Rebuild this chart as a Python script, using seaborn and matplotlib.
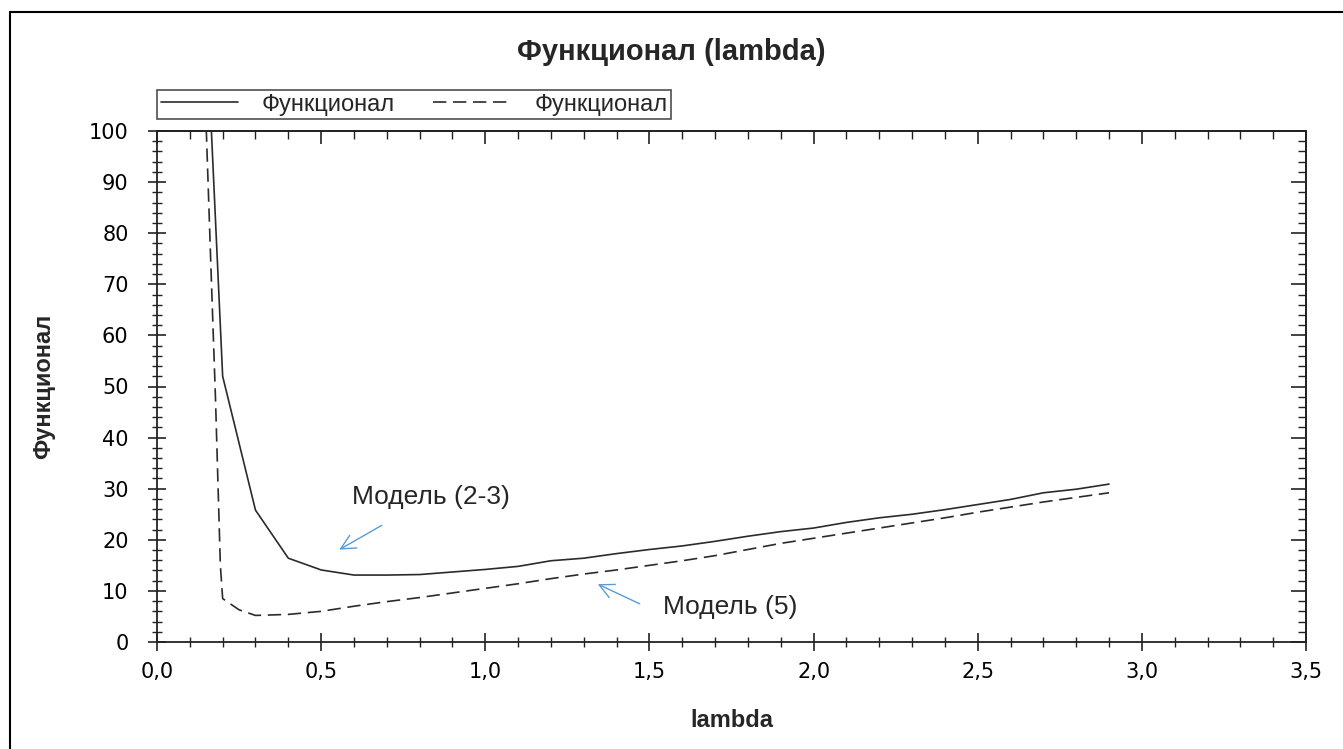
import matplotlib

matplotlib.use("Agg")
import matplotlib.pyplot as plt
import pandas as pd
import seaborn as sns
from matplotlib.lines import Line2D
from matplotlib.ticker import FuncFormatter, MultipleLocator

# Model (2-3), solid curve
lambda_solid = [0.15, 0.2, 0.3, 0.4, 0.5, 0.6, 0.7, 0.8, 0.9, 1.0, 1.1, 1.2, 1.3, 1.4,
                1.5, 1.6, 1.7, 1.8, 1.9, 2.0, 2.1, 2.2, 2.3, 2.4, 2.5, 2.6, 2.7, 2.8, 2.9]
func_solid = [122.0, 52.0, 25.8, 16.4, 14.1, 13.1, 13.1, 13.2, 13.7, 14.2, 14.8, 15.9, 16.4, 17.3,
              18.1, 18.8, 19.7, 20.7, 21.6, 22.3, 23.4, 24.3, 25.0, 25.9, 26.9, 27.9, 29.2, 29.9, 30.9]

# Model (5), dashed curve
lambda_dashed = [0.15, 0.165, 0.178, 0.193, 0.2, 0.25, 0.3, 0.4, 0.5, 0.6, 0.7, 0.8, 0.9, 1.0,
                 1.1, 1.2, 1.3, 1.4, 1.5, 1.6, 1.7, 1.8, 1.9, 2.0, 2.1, 2.2, 2.3, 2.4, 2.5,
                 2.6, 2.7, 2.8, 2.9]
func_dashed = [100.5, 72.0, 48.0, 15.0, 8.5, 6.3, 5.2, 5.4, 6.0, 7.0, 7.9, 8.7, 9.6, 10.5,
               11.4, 12.4, 13.3, 14.1, 15.0, 15.9, 16.9, 18.1, 19.3, 20.3, 21.3, 22.3, 23.3, 24.3, 25.4,
               26.4, 27.4, 28.3, 29.2]

legend_labels = ["Функционал", "Функционал"]
annot_labels = ["Модель (2-3)", "Модель (5)"]

sns.set_theme(style="white")
plt.rcParams["font.family"] = ["Liberation Sans", "DejaVu Sans"]

LINE_COLOR = "#2b2b2b"
ARROW_COLOR = "#5b9bd5"
DASH = (0, (8, 4))

fig = plt.figure(figsize=(13.43, 7.49), dpi=100)
ax = fig.add_axes([157 / 1343, 1 - 642 / 749, (1306 - 157) / 1343, (642 - 131) / 749])

df_solid = pd.DataFrame({"lambda": lambda_solid, "value": func_solid})
df_dashed = pd.DataFrame({"lambda": lambda_dashed, "value": func_dashed})
sns.lineplot(data=df_solid, x="lambda", y="value", ax=ax, color=LINE_COLOR,
             linewidth=1.2, sort=False, estimator=None)
sns.lineplot(data=df_dashed, x="lambda", y="value", ax=ax, color=LINE_COLOR,
             linewidth=1.2, sort=False, estimator=None, linestyle=DASH)

ax.set_xlim(0, 3.5)
ax.set_ylim(0, 100)
ax.xaxis.set_major_locator(MultipleLocator(0.5))
ax.xaxis.set_minor_locator(MultipleLocator(0.1))
ax.yaxis.set_major_locator(MultipleLocator(10))
ax.yaxis.set_minor_locator(MultipleLocator(2))
ax.xaxis.set_major_formatter(FuncFormatter(lambda v, _: f"{v:.1f}".replace(".", ",")))
ax.yaxis.set_major_formatter(FuncFormatter(lambda v, _: f"{v:.0f}"))

for side in ["left", "bottom", "right", "top"]:
    ax.spines[side].set_color("#222222")
    ax.spines[side].set_linewidth(1.3)

ax.tick_params(axis="both", which="major", direction="inout", length=13, width=1.2,
               colors="#222222", labelsize=15, labelcolor="black")
ax.tick_params(axis="both", which="minor", direction="inout", length=7, width=1.0, colors="#222222")
ax.tick_params(axis="x", which="major", pad=8)
ax.tick_params(axis="y", which="major", pad=14)
ax.tick_params(which="both", bottom=True, left=True, top=False, right=False)
for lbl in ax.get_xticklabels() + ax.get_yticklabels():
    lbl.set_fontfamily(["DejaVu Sans"])

# inward ticks on the top and right edges
top = ax.secondary_xaxis("top")
top.xaxis.set_major_locator(MultipleLocator(0.5))
top.xaxis.set_minor_locator(MultipleLocator(0.1))
top.tick_params(which="major", direction="in", length=9, width=1.2, colors="#222222", labeltop=False)
top.tick_params(which="minor", direction="in", length=6, width=1.0, colors="#222222")
top.spines["top"].set_linewidth(1.3)
right = ax.secondary_yaxis("right")
right.yaxis.set_major_locator(MultipleLocator(10))
right.yaxis.set_minor_locator(MultipleLocator(2))
right.tick_params(which="major", direction="in", length=11, width=1.2, colors="#222222", labelright=False)
right.tick_params(which="minor", direction="in", length=6, width=1.0, colors="#222222")
right.spines["right"].set_linewidth(1.3)

ax.set_xlabel("lambda", fontsize=17, fontweight="bold", labelpad=19)
ax.set_ylabel("Функционал", fontsize=17, fontweight="bold", labelpad=24)
fig.suptitle("Функционал (lambda)", x=0.5, y=1 - 52 / 749, va="center",
             fontsize=21, fontweight="bold")

handles = [Line2D([], [], color=LINE_COLOR, linewidth=1.2),
           Line2D([], [], color=LINE_COLOR, linewidth=1.2, linestyle=DASH)]
leg = ax.legend(handles, legend_labels, ncol=2, loc="lower left",
                bbox_to_anchor=(0.0, 1.023), fontsize=17, frameon=True,
                fancybox=False, edgecolor="#222222", borderpad=0.15,
                handlelength=3.3, handletextpad=1.0, columnspacing=1.6, borderaxespad=0)
leg.get_frame().set_linewidth(1.2)

ax.annotate(annot_labels[0], xy=(0.548, 17.8), xytext=(0.594, 28.4),
            fontsize=19, va="center", ha="left")
ax.annotate("", xy=(0.548, 17.8), xytext=(0.692, 23.1),
            arrowprops=dict(arrowstyle="->", color=ARROW_COLOR, lw=1.0, mutation_scale=26))
ax.annotate(annot_labels[1], xy=(1.335, 11.55), xytext=(1.542, 6.85),
            fontsize=19, va="center", ha="left")
ax.annotate("", xy=(1.335, 11.55), xytext=(1.478, 7.24),
            arrowprops=dict(arrowstyle="->", color=ARROW_COLOR, lw=1.0, mutation_scale=26))

# outer frame (top and left edges visible in the reference)
fig.add_artist(Line2D([10 / 1343, 1.0], [1 - 12 / 749, 1 - 12 / 749],
                      transform=fig.transFigure, color="black", linewidth=1.5))
fig.add_artist(Line2D([10 / 1343, 10 / 1343], [0.0, 1 - 12 / 749],
                      transform=fig.transFigure, color="black", linewidth=1.5))

fig.savefig("out.png", dpi=100)
